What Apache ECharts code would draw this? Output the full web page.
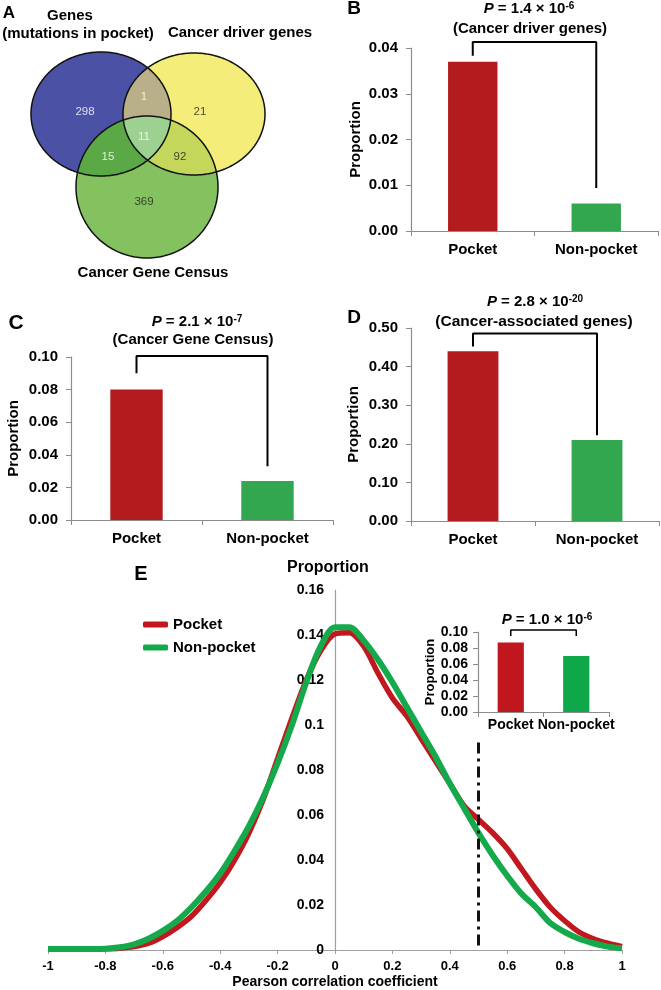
<!DOCTYPE html>
<html><head><meta charset="utf-8">
<script src="https://cdn.jsdelivr.net/npm/echarts@6/dist/echarts.min.js"></script>
<style>html,body{margin:0;padding:0;background:#fff}#c{width:661px;height:990px}</style>
</head><body><div id="c"></div>
<script>
// ---------------- data ----------------
const vennSetNames = ['Genes', '(mutations in pocket)', 'Cancer driver genes', 'Cancer Gene Census'];
// regions: Genes only, Genes∩Driver, Driver only, all three, Genes∩Census, Driver∩Census, Census only
const vennCounts = [298, 1, 21, 11, 15, 92, 369];

const barCats = ['Pocket', 'Non-pocket'];
const driverProp = [0.037, 0.006];      // B
const censusProp = [0.080, 0.024];      // C
const assocProp = [0.44, 0.21];         // D
const insetProp = [0.087, 0.070];       // E inset

const bracketB = [0.0383, 0.0413, 0.0094];
const bracketC = [0.090, 0.1006, 0.033];
const bracketD = [0.452, 0.486, 0.222];
const bracketInset = [0.095, 0.1025, 0.095];

const pTexts = {B: ['1.4', '-6'], C: ['2.1', '-7'], D: ['2.8', '-20'], E: ['1.0', '-6']};
const subTitles = {B: '(Cancer driver genes)', C: '(Cancer Gene Census)', D: '(Cancer-associated genes)'};

const corrX = [-1, -0.95, -0.9, -0.85, -0.8, -0.75, -0.7, -0.65, -0.6, -0.55, -0.5, -0.45, -0.4, -0.35, -0.3, -0.25, -0.2, -0.15, -0.1, -0.05,
  0, 0.05, 0.1, 0.15, 0.2, 0.25, 0.3, 0.35, 0.4, 0.45, 0.5, 0.55, 0.6, 0.65, 0.7, 0.75, 0.8, 0.85, 0.9, 0.95, 1];
const pocketDensity = [0.0003, 0.0003, 0.0003, 0.0004, 0.0005, 0.0008, 0.0015, 0.003, 0.006, 0.010, 0.015, 0.022, 0.030, 0.040, 0.052, 0.067, 0.085, 0.103, 0.120, 0.133,
  0.1405, 0.141, 0.135, 0.123, 0.112, 0.104, 0.094, 0.084, 0.074, 0.064, 0.058, 0.052, 0.045, 0.036, 0.027, 0.019, 0.013, 0.008, 0.005, 0.003, 0.0015];
const nonPocketDensity = [0.0005, 0.0005, 0.0005, 0.0005, 0.0006, 0.0012, 0.0025, 0.005, 0.0085, 0.013, 0.019, 0.026, 0.034, 0.044, 0.055, 0.068, 0.083, 0.100, 0.119, 0.135,
  0.1435, 0.1435, 0.1375, 0.129, 0.119, 0.108, 0.097, 0.086, 0.074, 0.063, 0.052, 0.042, 0.033, 0.025, 0.019, 0.012, 0.008, 0.005, 0.003, 0.0015, 0.0008];
const thresholdLine = [[0.5, 0.002], [0.5, 0.094]];
const xTicks = {min: -1, max: 1, interval: 0.2};
const yTicksE = {min: 0, max: 0.16, interval: 0.02};

// ---------------- layout / style ----------------
const FF = "'Liberation Sans', Arial, Helvetica, sans-serif";
const RED = '#b31b1f', GREEN = '#33a650', RED2 = '#bf171d', GREEN2 = '#0ea84a';
const LRED = '#c0181e', LGREEN = '#14a94b';
const vennShapes = [ // in venn-grid units (1 unit = 1 px)
  {cx: 101, cy: 114, rx: 70, ry: 62, color: '#4b52a5'},
  {cx: 194, cy: 114, rx: 71, ry: 61, color: '#f4ed79'},
  {cx: 147, cy: 187, rx: 71, ry: 71, color: '#84c25f'}
];
const vennPairColors = {'01': '#b9af88', '02': '#5aa946', '12': '#c4d75b'};
const vennTripleColor = '#9dd192';
const vennLabelPos = [[85, 112], [144, 97], [200, 112], [144, 137], [108, 157], [180, 157], [144, 202]];
const vennLabelColor = ['#fff', '#fff', '#222', '#fff', '#fff', '#222', '#222'];

function ellipse(e, api) {
  const c = api.coord([e.cx, e.cy]);
  const s = api.size([e.rx, e.ry]);
  const rx = Math.abs(s[0]), ry = Math.abs(s[1]);
  const pts = [];
  const n = 360;
  for (let k = 0; k < n; k++) {
    const t = 2 * Math.PI * k / n;
    pts.push([c[0] + rx * Math.cos(t), c[1] + ry * Math.sin(t)]);
  }
  return {c, rx, ry, pts};
}
function inside(p, E) {
  const dx = (p[0] - E.c[0]) / E.rx, dy = (p[1] - E.c[1]) / E.ry;
  return dx * dx + dy * dy <= 1 + 1e-9;
}
function interPoly(list) {
  const pts = [];
  list.forEach((E, i) => E.pts.forEach(p => {
    if (list.every((F, j) => j === i || inside(p, F))) pts.push(p);
  }));
  let mx = 0, my = 0;
  pts.forEach(p => { mx += p[0]; my += p[1]; });
  mx /= pts.length; my /= pts.length;
  pts.sort((a, b) => Math.atan2(a[1] - my, a[0] - mx) - Math.atan2(b[1] - my, b[0] - mx));
  return pts;
}
function vennRender(params, api) {
  const E = vennShapes.map(e => ellipse(e, api));
  const children = [];
  E.forEach((el, i) => children.push({type: 'polygon', shape: {points: el.pts}, style: {fill: vennShapes[i].color}}));
  [[0, 1], [0, 2], [1, 2]].forEach(pr => {
    children.push({type: 'polygon', shape: {points: interPoly([E[pr[0]], E[pr[1]]])}, style: {fill: vennPairColors['' + pr[0] + pr[1]]}});
  });
  children.push({type: 'polygon', shape: {points: interPoly(E)}, style: {fill: vennTripleColor}});
  E.forEach(el => children.push({type: 'polygon', shape: {points: el.pts}, style: {fill: 'none', stroke: '#111', lineWidth: 1.5}}));
  return {type: 'group', children};
}

const grids = [
  {left: 0, top: 0, width: 280, height: 280},      // 0 venn
  {left: 411, top: 48, width: 247, height: 183},   // 1 B
  {left: 71, top: 357, width: 262, height: 163},   // 2 C
  {left: 411, top: 328, width: 248, height: 193},  // 3 D
  {left: 48, top: 590, width: 574, height: 360},   // 4 E
  {left: 478, top: 632, width: 131, height: 80}    // 5 inset
];
const AX = '#8c8c8c';
function catAxis(gi, fs, margin) {
  return {type: 'category', gridIndex: gi, data: barCats,
    axisLine: {show: true, lineStyle: {color: AX, width: 1.2}},
    axisTick: {show: true, length: 5, lineStyle: {color: AX}},
    axisLabel: {fontFamily: FF, fontWeight: 'bold', fontSize: fs, color: '#000', margin: margin, interval: 0}};
}
function valAxis(gi, max, interval, fs, nameFs, nameGap, margin) {
  return {type: 'value', gridIndex: gi, min: 0, max: max, interval: interval,
    name: 'Proportion', nameLocation: 'middle', nameGap: nameGap,
    nameTextStyle: {fontFamily: FF, fontWeight: 'bold', fontSize: nameFs, color: '#000'},
    splitLine: {show: false},
    axisLine: {show: true, lineStyle: {color: AX, width: 1.2}},
    axisTick: {show: true, length: 5, lineStyle: {color: AX}},
    axisLabel: {fontFamily: FF, fontWeight: 'bold', fontSize: fs, color: '#000', margin: margin, formatter: v => v.toFixed(2)}};
}
function barSeries(ai, vals, cRed, cGreen, w) {
  return {type: 'bar', xAxisIndex: ai, yAxisIndex: ai, barWidth: w, silent: true,
    data: vals.map((v, i) => ({value: v, itemStyle: {color: i === 0 ? cRed : cGreen}}))};
}
function bracketSeries(ai, br, lw) {
  return {type: 'line', xAxisIndex: ai, yAxisIndex: ai, symbol: 'none', clip: false, silent: true,
    lineStyle: {color: '#000', width: lw}, itemStyle: {color: '#000'},
    data: [[0, br[0]], [0, br[1]], [1, br[1]], [1, br[2]]]};
}
function pText(key, x, y, fs, sfs) {
  return {type: 'text', x: x, y: y, style: {
    text: '{i|P}{n| = ' + pTexts[key][0] + ' × 10}{s|' + pTexts[key][1] + '}',
    align: 'center', verticalAlign: 'middle', fill: '#000',
    rich: {
      i: {fontFamily: FF, fontSize: fs, fontWeight: 'bold', fontStyle: 'italic', fill: '#000'},
      n: {fontFamily: FF, fontSize: fs, fontWeight: 'bold', fill: '#000'},
      s: {fontFamily: FF, fontSize: sfs, fontWeight: 'bold', fill: '#000', verticalAlign: 'top'}
    }}};
}
function txt(t, x, y, fs, extra) {
  return {type: 'text', x: x, y: y, style: Object.assign({text: t, fontFamily: FF, fontSize: fs, fontWeight: 'bold',
    fill: '#000', align: 'center', verticalAlign: 'middle'}, extra || {})};
}

const option = {
  animation: false,
  backgroundColor: '#fff',
  grid: grids,
  xAxis: [
    {type: 'value', gridIndex: 0, min: 0, max: 280, show: false},
    catAxis(1, 15, 11),
    catAxis(2, 15, 11),
    catAxis(3, 15, 11),
    {type: 'value', gridIndex: 4, min: xTicks.min, max: xTicks.max, interval: xTicks.interval,
      name: 'Pearson correlation coefficient', nameLocation: 'middle', nameGap: 25,
      nameTextStyle: {fontFamily: FF, fontWeight: 'bold', fontSize: 14, color: '#000'},
      splitLine: {show: false},
      axisLine: {show: true, onZero: false, lineStyle: {color: '#a0a0a0', width: 1.2}},
      axisTick: {show: true, length: 4, lineStyle: {color: '#a0a0a0'}},
      axisLabel: {fontFamily: FF, fontWeight: 'bold', fontSize: 13, color: '#000', margin: 10}},
    catAxis(5, 14, 6)
  ],
  yAxis: [
    {type: 'value', gridIndex: 0, min: 0, max: 280, inverse: true, show: false},
    valAxis(1, 0.04, 0.01, 15, 15, 48, 13),
    valAxis(2, 0.10, 0.02, 15, 15, 50, 13),
    valAxis(3, 0.50, 0.10, 15, 15, 50, 13),
    {type: 'value', gridIndex: 4, min: yTicksE.min, max: yTicksE.max, interval: yTicksE.interval,
      position: 'left', offset: -287,
      name: 'Proportion', nameLocation: 'end', nameGap: 14,
      nameTextStyle: {fontFamily: FF, fontWeight: 'bold', fontSize: 16, color: '#000', padding: [0, 14, 0, 0]},
      splitLine: {show: false},
      axisLine: {show: true, onZero: false, lineStyle: {color: '#a0a0a0', width: 1.2}},
      axisTick: {show: false},
      axisLabel: {fontFamily: FF, fontWeight: 'bold', fontSize: 14, color: '#000', margin: 11}},
    valAxis(5, 0.10, 0.02, 14, 13, 40, 10)
  ],
  legend: {data: ['Pocket', 'Non-pocket'], orient: 'vertical', left: 138, top: 612, itemWidth: 25, itemHeight: 6,
    itemGap: 8, icon: 'roundRect', textStyle: {fontFamily: FF, fontWeight: 'bold', fontSize: 15, color: '#000'}},
  series: [
    {type: 'custom', xAxisIndex: 0, yAxisIndex: 0, silent: true, data: [[0, 0]], renderItem: vennRender},
    {type: 'scatter', xAxisIndex: 0, yAxisIndex: 0, symbolSize: 1, silent: true, itemStyle: {color: 'rgba(0,0,0,0)'},
      data: vennCounts.map((c, i) => ({value: [vennLabelPos[i][0], vennLabelPos[i][1], c],
        label: {show: true, position: 'inside', formatter: p => '' + p.value[2], color: vennLabelColor[i],
          fontFamily: FF, fontSize: 11.5}}))},
    barSeries(1, driverProp, RED, GREEN, '40%'),
    bracketSeries(1, bracketB, 2),
    barSeries(2, censusProp, RED, GREEN, '40%'),
    bracketSeries(2, bracketC, 2),
    barSeries(3, assocProp, RED, GREEN, '41%'),
    bracketSeries(3, bracketD, 2),
    {name: 'Pocket', type: 'line', xAxisIndex: 4, yAxisIndex: 4, smooth: 0.3, symbol: 'none', silent: true,
      itemStyle: {color: LRED}, lineStyle: {color: LRED, width: 5.5},
      data: corrX.map((x, i) => [x, pocketDensity[i]])},
    {name: 'Non-pocket', type: 'line', xAxisIndex: 4, yAxisIndex: 4, smooth: 0.3, symbol: 'none', silent: true,
      itemStyle: {color: LGREEN}, lineStyle: {color: LGREEN, width: 6},
      data: corrX.map((x, i) => [x, nonPocketDensity[i]])},
    {type: 'line', xAxisIndex: 4, yAxisIndex: 4, symbol: 'none', silent: true, clip: false,
      lineStyle: {color: '#111', width: 3, type: [11, 5, 3, 5]}, itemStyle: {color: '#111'}, data: thresholdLine},
    barSeries(5, insetProp, RED2, GREEN2, '40%'),
    bracketSeries(5, bracketInset, 1.5)
  ],
  graphic: {elements: [
    txt('A', 9, 13, 17),
    txt(vennSetNames[0], 70, 16, 15),
    txt(vennSetNames[1], 78, 34, 15),
    txt(vennSetNames[2], 240, 33, 15),
    txt(vennSetNames[3], 153, 273, 15),
    txt('B', 354, 9, 19),
    pText('B', 529, 9, 15, 10),
    txt(subTitles.B, 530, 29, 15),
    txt('C', 16, 323, 21),
    pText('C', 197, 322, 15, 10),
    txt(subTitles.C, 193, 340, 15),
    txt('D', 354, 318, 19),
    pText('D', 535, 302, 15, 10),
    txt(subTitles.D, 534, 322, 15.5),
    txt('E', 141, 574, 20),
    pText('E', 547, 620, 15, 10)
  ]}
};
const chart = echarts.init(document.getElementById('c'), null, {renderer: 'canvas'});
chart.setOption(option);
</script></body></html>
